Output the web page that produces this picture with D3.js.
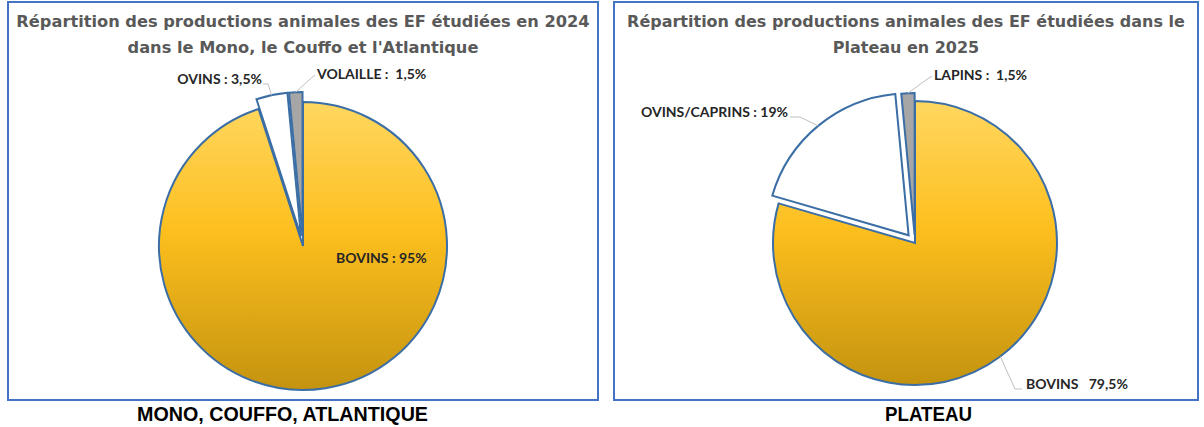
<!DOCTYPE html>
<html>
<head>
<meta charset="utf-8">
<script src="https://cdn.jsdelivr.net/npm/d3@7"></script>
<style>
  body { margin: 0; background: #fff; }
  svg { display: block; }
  text { white-space: pre; }
</style>
</head>
<body>
<svg id="chart" width="1204" height="427"></svg>
<script>
// data
const mcaTitle = ["Répartition des productions animales des EF étudiées en 2024", "dans le Mono, le Couffo et l'Atlantique"];
const mcaCaption = "MONO, COUFFO, ATLANTIQUE";
const mcaLabels = ["BOVINS", "OVINS", "VOLAILLE"];
const mcaValues = [95, 3.5, 1.5];
const mcaSeps = [" : ", " : ", " :  "];

const platTitle = ["Répartition des productions animales des EF étudiées dans le", "Plateau en 2025"];
const platCaption = "PLATEAU";
const platLabels = ["BOVINS", "OVINS/CAPRINS", "LAPINS"];
const platValues = [79.5, 19, 1.5];
const platSeps = ["   ", " : ", " :  "];

const sliceFills = ["url(#gold)", "#ffffff", "#a6a6a6"];

const fr = d3.formatLocale({ decimal: ",", thousands: " ", grouping: [3], currency: ["", "€"] });
const fmtPct = v => fr.format("~f")(v) + "%";

const svg = d3.select("#chart");
const defs = svg.append("defs");
const grad = defs.append("linearGradient").attr("id", "gold")
  .attr("x1", 0).attr("y1", 0).attr("x2", 0).attr("y2", 1);
grad.append("stop").attr("offset", "0%").attr("stop-color", "#ffd760");
grad.append("stop").attr("offset", "45%").attr("stop-color", "#fdbf1e");
grad.append("stop").attr("offset", "100%").attr("stop-color", "#c4930f");

function fitTitle(g, lines, cx, width1) {
  const t = g.selectAll("text.title").data(lines).enter().append("text")
    .attr("class", "title")
    .attr("x", cx)
    .attr("y", (d, i) => 27 + i * 26)
    .attr("text-anchor", "middle")
    .style("font-family", "'Comic Sans MS', 'DejaVu Sans', sans-serif")
    .style("font-weight", "bold")
    .style("font-size", "16px")
    .style("fill", "#595959")
    .text(d => d);
  // scale font so first line has the measured width
  const w = t.nodes()[0].getComputedTextLength();
  t.style("font-size", (16 * width1 / w) + "px");
}

function drawPanel(opts) {
  const g = svg.append("g");
  g.append("rect")
    .attr("x", opts.box[0]).attr("y", opts.box[1])
    .attr("width", opts.box[2]).attr("height", opts.box[3])
    .attr("fill", "#fff").attr("stroke", "#4472c4").attr("stroke-width", 2);

  fitTitle(g, opts.title, opts.box[0] + opts.box[2] / 2, opts.titleWidth);

  const pie = d3.pie().sort(null).value(d => d)(opts.values);
  const arc = d3.arc().innerRadius(0).outerRadius(opts.r);
  const edge = d3.arc().innerRadius(opts.r).outerRadius(opts.r);

  const pg = g.append("g").attr("transform", `translate(${opts.cx},${opts.cy})`);
  const offset = (d, i) => {
    const a = (d.startAngle + d.endAngle) / 2;
    const e = opts.explode[i];
    return [Math.sin(a) * e, -Math.cos(a) * e];
  };
  pg.selectAll("path.slice").data(pie).enter().append("path")
    .attr("class", "slice")
    .attr("transform", (d, i) => `translate(${offset(d, i)})`)
    .attr("d", arc)
    .attr("fill", (d, i) => sliceFills[i])
    .attr("stroke", "#3b6ea5")
    .attr("stroke-width", 2)
    .attr("stroke-linejoin", "miter");

  // labels and leader lines
  pie.forEach((d, i) => {
    const lab = opts.labels[i];
    const txt = opts.names[i] + opts.seps[i] + fmtPct(opts.values[i]);
    g.append("text")
      .attr("x", lab.x).attr("y", lab.y)
      .attr("text-anchor", lab.anchor)
      .attr("xml:space", "preserve")
      .style("font-family", "Lato, 'Open Sans', sans-serif")
      .style("font-weight", "bold")
      .style("font-size", "14px")
      .style("fill", "#262626")
      .text(txt);
    if (lab.leader) {
      const o = offset(d, i);
      const c = edge.centroid(d);
      const p = [opts.cx + c[0] + o[0], opts.cy + c[1] + o[1]];
      g.append("path")
        .attr("d", d3.line()([p, lab.leader[0], lab.leader[1]]))
        .attr("fill", "none")
        .attr("stroke", "#bfbfbf")
        .attr("stroke-width", 1);
    }
  });

  // caption under the panel, condensed like Arial Narrow
  svg.append("text")
    .attr("x", opts.capX)
    .attr("y", 421)
    .attr("textLength", opts.capW)
    .attr("lengthAdjust", "spacingAndGlyphs")
    .style("font-family", "'Liberation Sans Narrow', 'Arial Narrow', 'Liberation Sans', sans-serif")
    .style("font-weight", "bold")
    .style("font-size", "21px")
    .style("fill", "#000")
    .text(opts.caption);
}

drawPanel({
  box: [8, 2, 590, 398],
  title: mcaTitle, titleWidth: 574,
  caption: mcaCaption, capX: 137, capW: 291,
  names: mcaLabels, values: mcaValues, seps: mcaSeps,
  cx: 303, cy: 246, r: 144,
  explode: [0, 10, 10],
  labels: [
    { x: 336, y: 263, anchor: "start" },
    { x: 262, y: 84, anchor: "end", leader: [[268, 84], [263, 84]] },
    { x: 317, y: 79, anchor: "start", leader: [[309, 80], [315, 75]] }
  ]
});

drawPanel({
  box: [614, 2, 584, 398],
  title: platTitle, titleWidth: 558,
  caption: platCaption, capX: 885, capW: 87,
  names: platLabels, values: platValues, seps: platSeps,
  cx: 915, cy: 243, r: 142,
  explode: [0, 10, 8],
  labels: [
    { x: 1026, y: 389, anchor: "start", leader: [[1015, 389], [1022, 389]] },
    { x: 788, y: 117, anchor: "end", leader: [[800, 117], [790, 117]] },
    { x: 934, y: 80, anchor: "start", leader: [[926, 80], [932, 76]] }
  ]
});
</script>
</body>
</html>
